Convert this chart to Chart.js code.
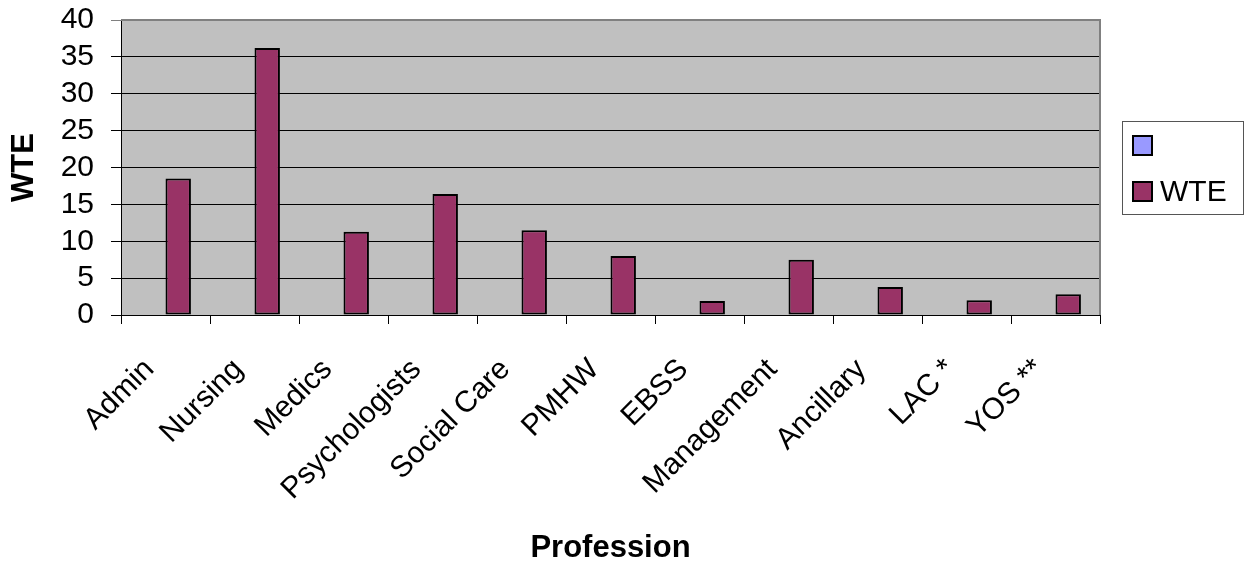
<!DOCTYPE html>
<html>
<head>
<meta charset="utf-8">
<title>WTE by Profession</title>
<script src="https://cdn.jsdelivr.net/npm/chart.js@4.4.1/dist/chart.umd.min.js"></script>
<style>
  html, body { margin: 0; padding: 0; background: #ffffff; }
  #wrap { width: 1244px; height: 563px; }
</style>
</head>
<body>
<div id="wrap"><canvas id="chart" width="1244" height="563"></canvas></div>
<script>
// Professions along the category axis
const categories = ['Admin', 'Nursing', 'Medics', 'Psychologists', 'Social Care', 'PMHW', 'EBSS', 'Management', 'Ancillary', 'LAC *', 'YOS **'];

// Whole-time-equivalent staff per profession
const wteValues = [18.5, 36.2, 11.3, 16.4, 11.5, 8.0, 1.9, 7.5, 3.8, 2.0, 2.8];

// Unnamed companion series (no values, still reserves its slot in each group)
const blankValues = [null, null, null, null, null, null, null, null, null, null, null];

// Value axis ticks
const yTicks = [0, 5, 10, 15, 20, 25, 30, 35, 40];

const FONT = "'Liberation Sans', Arial, sans-serif";

// Grey plot area with a grey frame on the top and right edges
const plotArea = {
  id: 'plotArea',
  beforeDraw(chart) {
    const { ctx, chartArea: a } = chart;
    ctx.save();
    ctx.fillStyle = '#c0c0c0';
    ctx.fillRect(a.left, a.top, a.right - a.left, a.bottom - a.top);
    ctx.restore();
  },
  afterDatasetsDraw(chart) {
    const { ctx, chartArea: a } = chart;
    ctx.save();
    ctx.strokeStyle = '#808080';
    ctx.lineWidth = 2;
    ctx.beginPath();
    ctx.moveTo(a.left, a.top);
    ctx.lineTo(a.right, a.top);
    ctx.lineTo(a.right, a.bottom);
    ctx.stroke();
    ctx.restore();
  }
};

// Boxed legend to the right of the plot, built from the datasets
const boxedLegend = {
  id: 'boxedLegend',
  afterDraw(chart) {
    const { ctx, chartArea: a } = chart;
    const x = a.right + 22, y = 121, w = 121, h = 93;
    ctx.save();
    ctx.fillStyle = '#ffffff';
    ctx.fillRect(x, y, w, h);
    ctx.strokeStyle = '#555555';
    ctx.lineWidth = 1;
    ctx.strokeRect(x + 0.5, y + 0.5, w, h);
    chart.data.datasets.forEach((ds, i) => {
      const sy = y + 14 + i * 46;
      ctx.fillStyle = '#000000';
      ctx.fillRect(x + 10, sy, 21, 21);
      ctx.fillStyle = ds.backgroundColor;
      ctx.fillRect(x + 12, sy + 2, 17, 17);
      ctx.fillStyle = '#000000';
      ctx.font = '30px ' + FONT;
      ctx.textBaseline = 'middle';
      ctx.textAlign = 'left';
      ctx.fillText(ds.label, x + 38, sy + 12);
    });
    ctx.restore();
  }
};

new Chart(document.getElementById('chart'), {
  type: 'bar',
  data: {
    labels: categories,
    datasets: [
      {
        label: '',
        data: blankValues,
        backgroundColor: '#9999ff',
        borderColor: '#000000',
        borderWidth: 2
      },
      {
        label: 'WTE',
        data: wteValues,
        backgroundColor: '#993366',
        borderColor: '#000000',
        borderWidth: 2
      }
    ]
  },
  options: {
    responsive: false,
    animation: false,
    devicePixelRatio: 1,
    layout: { padding: { top: 20, right: 144, bottom: 0, left: 0 } },
    datasets: {
      bar: { categoryPercentage: 2 / 3.5, barPercentage: 1, borderSkipped: false }
    },
    plugins: {
      legend: { display: false },
      tooltip: { enabled: false }
    },
    scales: {
      x: {
        afterFit(scale) { scale.height = 248; },
        grid: {
          offset: true,
          drawOnChartArea: false,
          drawTicks: true,
          tickLength: 9,
          color: '#000000'
        },
        border: { display: true, color: '#000000', width: 1 },
        ticks: {
          color: '#000000',
          font: { family: FONT, size: 30 },
          minRotation: 45,
          maxRotation: 45,
          autoSkip: false,
          padding: 28,
          labelOffset: -16
        },
        title: {
          display: true,
          text: 'Profession',
          color: '#000000',
          font: { family: FONT, size: 31, weight: 'bold' },
          padding: { top: 0, bottom: -4 }
        }
      },
      y: {
        min: yTicks[0],
        max: yTicks[yTicks.length - 1],
        afterFit(scale) {
          scale.width = 121;
          scale.paddingTop = 0;
          scale.paddingBottom = 0;
        },
        afterBuildTicks(scale) { scale.ticks = yTicks.map(v => ({ value: v })); },
        grid: {
          drawTicks: true,
          tickLength: 10,
          color: (c) => (c.tick && c.tick.value === 40 ? '#808080' : '#000000')
        },
        border: { display: true, color: '#000000', width: 1 },
        ticks: {
          color: '#000000',
          font: { family: FONT, size: 30 },
          padding: 17,
          autoSkip: false
        },
        title: {
          display: true,
          text: 'WTE',
          color: '#000000',
          font: { family: FONT, size: 31, weight: 'bold' },
          padding: { top: 6, bottom: 0 }
        }
      }
    }
  },
  plugins: [plotArea, boxedLegend]
});
</script>
</body>
</html>
